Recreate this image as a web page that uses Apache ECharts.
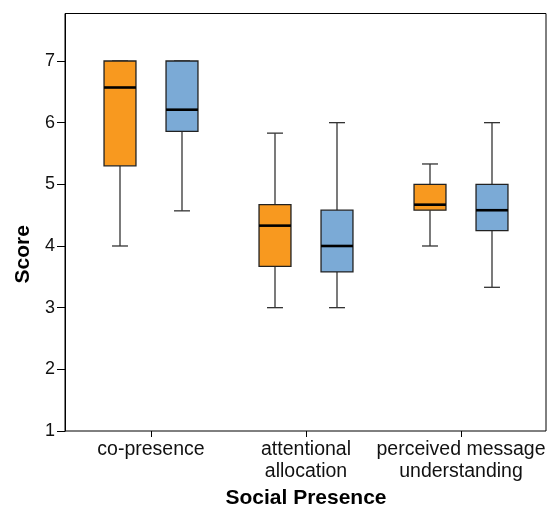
<!DOCTYPE html>
<html>
<head>
<meta charset="utf-8">
<script src="https://cdn.jsdelivr.net/npm/echarts@6/dist/echarts.min.js"></script>
<style>
  html, body { margin: 0; padding: 0; background: #fff; }
  #chart { width: 548px; height: 506px; }
</style>
</head>
<body>
<div id="chart"></div>
<script>
// categories and box statistics: [min, Q1, median, Q3, max]
const categorias = ["co-presence", "attentional\nallocation", "perceived message\nunderstanding"];
const grupoNaranja = [
  [4.0, 5.3, 6.57, 7.0, 7.0],
  [3.0, 3.67, 4.33, 4.67, 5.83],
  [4.0, 4.58, 4.67, 5.0, 5.33]
];
const grupoAzul = [
  [4.57, 5.86, 6.21, 7.0, 7.0],
  [3.0, 3.58, 4.0, 4.58, 6.0],
  [3.33, 4.25, 4.58, 5.0, 6.0]
];
const ticksY = [1, 2, 3, 4, 5, 6, 7];

const chart = echarts.init(document.getElementById("chart"));
const FONT = "Liberation Sans";
const Y_MIN = ticksY[0], Y_MAX = 7.77;

// dibuja una caja (lado: -1 izquierda, +1 derecha)
const cajaRender = (lado, color) => (params, api) => {
  const banda = api.size([1, 0])[0];
  const cx = api.coord([api.value(0), 0])[0] + lado * banda * 0.2;
  const half = banda * 0.103;
  const cap = half / 2;
  const y = [1, 2, 3, 4, 5].map(i => api.coord([api.value(0), api.value(i)])[1]);
  const lineStyle = { stroke: "#333", lineWidth: 1.3 };
  return {
    type: "group",
    children: [
      { type: "line", shape: { x1: cx, y1: y[0], x2: cx, y2: y[1] }, style: lineStyle },
      { type: "line", shape: { x1: cx, y1: y[3], x2: cx, y2: y[4] }, style: lineStyle },
      { type: "line", shape: { x1: cx - cap, y1: y[0], x2: cx + cap, y2: y[0] }, style: lineStyle },
      { type: "line", shape: { x1: cx - cap, y1: y[4], x2: cx + cap, y2: y[4] }, style: lineStyle },
      { type: "rect", shape: { x: cx - half, y: y[3], width: half * 2, height: y[1] - y[3] },
        style: { fill: color, stroke: "#222", lineWidth: 1.3 } },
      { type: "line", shape: { x1: cx - half, y1: y[2], x2: cx + half, y2: y[2] },
        style: { stroke: "#000", lineWidth: 2.6 } }
    ]
  };
};

const option = {
  backgroundColor: "#fff",
  animation: false,
  textStyle: { fontFamily: FONT },
  grid: [
    { left: 65, right: 2, top: 13.5, bottom: 75, show: true, borderColor: "#000", borderWidth: 1,
      outerBoundsMode: "none", containLabel: false },
    { left: 73.5, width: 465, top: 13.5, bottom: 75, outerBoundsMode: "none", containLabel: false }
  ],
  xAxis: [
    { type: "value", gridIndex: 0, show: false, min: 0, max: 1 },
    {
      type: "category",
      gridIndex: 1,
      data: categorias,
      axisLine: { show: false, onZero: false },
      axisTick: { show: true, inside: false, alignWithLabel: true, length: 6, lineStyle: { color: "#000", width: 1 } },
      axisLabel: { color: "#111", fontSize: 19.5, lineHeight: 22, margin: 8, interval: 0, fontFamily: FONT },
      name: "Social Presence",
      nameLocation: "middle",
      nameGap: 57,
      nameTextStyle: { color: "#000", fontSize: 21, fontWeight: "bold", fontFamily: FONT }
    }
  ],
  yAxis: [
    {
      type: "value",
      gridIndex: 0,
      min: Y_MIN,
      max: Y_MAX,
      interval: 1,
      axisLine: { show: true, lineStyle: { color: "#000", width: 1 } },
      axisTick: { show: true, inside: false, length: 8, customValues: ticksY, lineStyle: { color: "#000", width: 1 } },
      axisLabel: { color: "#111", fontSize: 18, margin: 10, fontFamily: FONT, customValues: ticksY },
      splitLine: { show: false },
      name: "Score",
      nameLocation: "middle",
      nameGap: 26,
      nameTextStyle: { color: "#000", fontSize: 21, fontWeight: "bold", fontFamily: FONT, padding: [0, 64, 0, 0] }
    },
    { type: "value", gridIndex: 1, min: Y_MIN, max: Y_MAX, show: false }
  ],
  series: [
    {
      type: "custom",
      xAxisIndex: 1,
      yAxisIndex: 1,
      renderItem: cajaRender(-1, "#F8991F"),
      encode: { x: 0, y: [1, 2, 3, 4, 5] },
      data: grupoNaranja.map((d, i) => [i, ...d])
    },
    {
      type: "custom",
      xAxisIndex: 1,
      yAxisIndex: 1,
      renderItem: cajaRender(1, "#7BAAD6"),
      encode: { x: 0, y: [1, 2, 3, 4, 5] },
      data: grupoAzul.map((d, i) => [i, ...d])
    }
  ]
};

chart.setOption(option);
</script>
</body>
</html>
